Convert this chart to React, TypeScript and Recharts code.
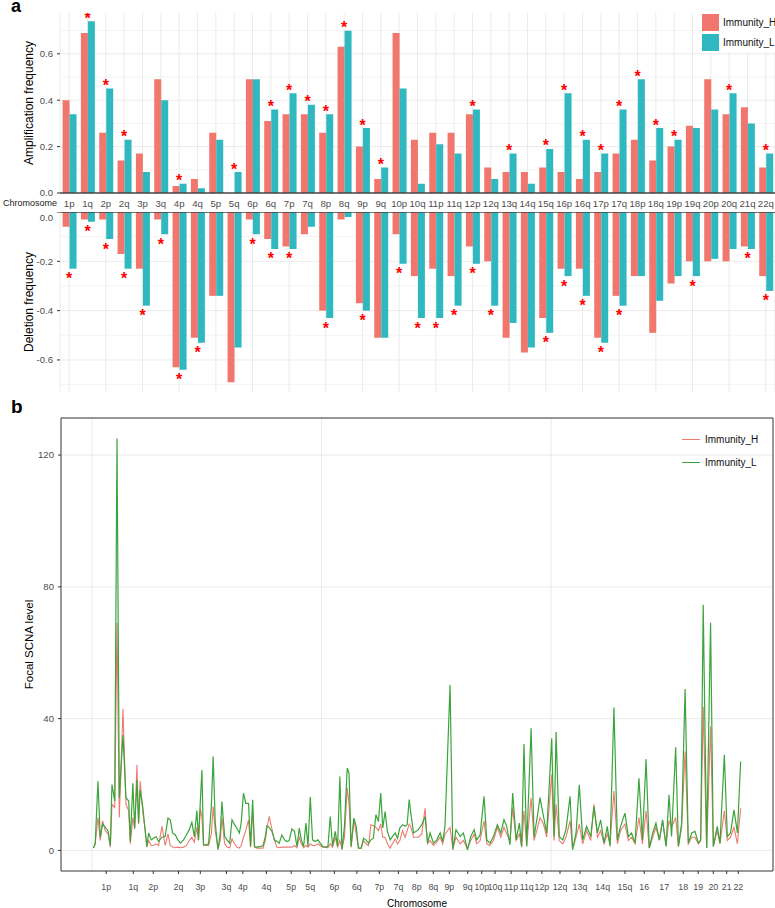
import React from "react";
import {
  Bar,
  CartesianGrid,
  ComposedChart,
  Line,
  LineChart,
  ReferenceArea,
  ReferenceLine,
  Scatter,
  XAxis,
  YAxis,
} from "recharts";

const FONT = "'Liberation Sans', Arial, Helvetica, sans-serif";
const RED = "#F1766E";
const TEAL = "#2FB8C0";
const LINE_RED = "#EE7A70";
const GREEN = "#3AA53A";
const GRID = "#EBEBEB";
const GRID_MINOR = "#F4F4F4";

// panel a: arm level frequencies
const chromArms = [
  "1p", "1q", "2p", "2q", "3p", "3q", "4p", "4q", "5p", "5q",
  "6p", "6q", "7p", "7q", "8p", "8q", "9p", "9q", "10p", "10q",
  "11p", "11q", "12p", "12q", "13q", "14q", "15q", "16p", "16q", "17p",
  "17q", "18p", "18q", "19p", "19q", "20p", "20q", "21q", "22q",
];
const ampH = [
  0.4, 0.69, 0.26, 0.14, 0.17, 0.49, 0.03, 0.06, 0.26, 0, 0.49, 0.31, 0.34,
  0.34, 0.26, 0.63, 0.2, 0.06, 0.69, 0.23, 0.26, 0.26, 0.34, 0.11, 0.09, 0.09,
  0.11, 0.09, 0.06, 0.09, 0.17, 0.23, 0.14, 0.2, 0.29, 0.49, 0.34, 0.37, 0.11,
];
const ampL = [
  0.34, 0.74, 0.45, 0.23, 0.09, 0.4, 0.04, 0.02, 0.23, 0.09, 0.49, 0.36, 0.43,
  0.38, 0.34, 0.7, 0.28, 0.11, 0.45, 0.04, 0.21, 0.17, 0.36, 0.06, 0.17, 0.04,
  0.19, 0.43, 0.23, 0.17, 0.36, 0.49, 0.28, 0.23, 0.28, 0.36, 0.43, 0.3, 0.17,
];
const delH = [
  -0.06, -0.03, -0.03, -0.17, -0.23, -0.03, -0.63, -0.51, -0.34, -0.69, -0.03,
  -0.11, -0.14, -0.09, -0.4, -0.03, -0.37, -0.51, -0.09, -0.26, -0.23, -0.26,
  -0.14, -0.2, -0.51, -0.57, -0.43, -0.23, -0.23, -0.51, -0.34, -0.26, -0.49,
  -0.29, -0.2, -0.2, -0.2, -0.14, -0.26,
];
const delL = [
  -0.23, -0.04, -0.11, -0.23, -0.38, -0.09, -0.64, -0.53, -0.34, -0.55, -0.09,
  -0.15, -0.15, -0.06, -0.43, -0.02, -0.4, -0.51, -0.21, -0.43, -0.43, -0.38,
  -0.21, -0.38, -0.45, -0.55, -0.49, -0.26, -0.34, -0.53, -0.38, -0.26, -0.36,
  -0.26, -0.26, -0.19, -0.15, -0.15, -0.32,
];
const ampSig = [
  "1q", "2p", "2q", "4p", "5q", "6q", "7p", "7q", "8p", "8q", "9p", "9q",
  "12p", "13q", "15q", "16p", "16q", "17p", "17q", "18p", "18q", "19p", "20q", "22q",
];
const delSig = [
  "1p", "1q", "2p", "2q", "3p", "3q", "4p", "4q", "6p", "6q", "7p", "8p", "9p",
  "10p", "10q", "11p", "11q", "12p", "12q", "15q", "16p", "16q", "17p", "17q",
  "19q", "21q", "22q",
];

// panel b: focal SCNA level along the genome (Mb)
const focalPos = [
  6, 14, 26, 36, 46, 58, 70, 80, 87, 99,
  109, 119, 135, 148, 160, 167, 178, 186, 196, 203,
  210, 221, 232, 239, 247, 258, 268, 279, 290, 305,
  319, 331, 341, 351, 363, 374, 385, 399, 411, 424,
  435, 446, 457, 464, 472, 479, 486, 496, 508, 520,
  528, 537, 549, 559, 566, 578, 588, 600, 610, 621,
  631, 642, 650, 660, 670, 682, 691, 700, 708, 718,
  733, 745, 755, 762, 772, 784, 795, 806, 816, 827,
  839, 849, 859, 871, 882, 893, 903, 912, 922, 932,
  941, 951, 961, 972, 984, 994, 1005, 1016, 1028, 1038,
  1048, 1060, 1070, 1080, 1089, 1100, 1112, 1120, 1129, 1141,
  1151, 1161, 1173, 1183, 1193, 1205, 1215, 1226, 1237, 1248,
  1258, 1267, 1277, 1287, 1299, 1309, 1321, 1331, 1341, 1353,
  1364, 1373, 1382, 1390, 1401,
  1422, 1437, 1451, 1462, 1473, 1488, 1502, 1517, 1528, 1538,
  1560, 1572, 1586, 1604, 1618, 1636, 1650, 1665, 1676, 1691,
  1708, 1720, 1734, 1749, 1766, 1781, 1795, 1807, 1821, 1833,
  1848, 1862, 1872, 1882, 1894, 1913, 1926, 1938, 1952, 1967,
  1981, 2003, 2013, 2022, 2036, 2051, 2065, 2083, 2094, 2109,
  2123, 2138, 2155, 2173, 2187, 2202, 2216, 2231, 2245, 2257,
  2274, 2289, 2303, 2322, 2337, 2351, 2366, 2383, 2398, 2414,
  2428, 2443, 2457, 2472, 2486, 2501, 2514, 2525, 2543, 2555,
  2569, 2584, 2598, 2613, 2627, 2642, 2652, 2663, 2678, 2695,
  2707, 2724, 2736, 2755, 2768, 2782, 2797, 2812, 2826,
];
const focalH = [
  0.7, 2, 10, 3, 9, 6, 5, 1, 14, 13,
  69, 10, 43, 14, 12, 2, 10, 6.5, 26, 8,
  21, 12, 6, 1, 3, 1.5, 1.5, 2, 1.5, 7.3,
  1.5, 5, 1.5, 1, 0.8, 1, 0.8, 1, 1.5, 3,
  4, 2.5, 7, 3, 12.8, 10, 1.5, 1.5, 1.5, 5,
  13.3, 6, 0.5, 3, 10, 2, 1, 0.8, 3.5, 2,
  1, 0.7, 1.5, 4, 6, 9.3, 1, 12, 1, 0.7,
  0.7, 0.7, 3, 6.5, 10.3, 6.5, 3, 1, 0.8, 1,
  1, 1, 1, 1, 1.5, 0.8, 4, 2, 0.8, 1.5,
  1, 2, 1.5, 1.5, 2, 1.5, 1, 1, 0.8, 2,
  1, 4, 1, 3, 0.5, 4, 19, 14, 1, 9.5,
  5, 0.7, 0.7, 3, 2, 1.5, 7.8, 7.5, 7, 6,
  8, 4, 4, 2, 0.7, 2, 3.5, 2, 3, 6,
  4, 6, 8, 7, 4,
  4, 5, 12.8, 2, 3, 1.5, 2.5, 4, 2, 5,
  7, 0.5, 4, 2, 3, 0.5, 3, 5, 2, 3,
  9, 2, 1.5, 3, 7, 4, 7, 5, 3, 13,
  3, 5, 1, 12, 1.5, 16, 3, 6, 10, 8,
  4, 23, 3, 14, 3, 2, 4, 9, 0.5, 4,
  8, 2, 6, 3, 14, 4, 6, 2, 5, 2,
  18, 2, 6, 8, 3, 4, 2, 10, 2, 12,
  0.7, 4, 7, 3, 9, 1.5, 9, 7, 10, 1.2,
  7, 30, 2, 4, 4, 2, 3, 43.6, 0.7, 37.6,
  1.2, 6, 2, 12, 3, 4, 7, 2, 12.8,
];
const focalL = [
  0.7, 2, 21, 4, 8, 7, 6, 1.5, 20, 15,
  125, 16, 35, 16, 15, 2.7, 20.4, 6.8, 21.4, 8.3,
  18.4, 13.3, 5.8, 1.2, 5.3, 3.2, 3.7, 4.2, 2.7, 4,
  4.2, 9.8, 9.3, 5.3, 4.7, 3.2, 2.2, 3.2, 4.7, 6.3,
  8.5, 4.2, 12.1, 3.2, 14.8, 24.4, 1.7, 1.7, 2, 13.3,
  28.5, 8.3, 0.2, 5.3, 14.8, 4.2, 3.2, 2.2, 9.3, 7.8,
  6.8, 5.3, 8.3, 17.4, 14.3, 14.3, 1.2, 15.4, 1.2, 1,
  1.2, 1.4, 4.2, 7.5, 7, 5.8, 3.2, 2.7, 2.2, 4.7,
  3.2, 2.7, 3, 6.5, 5.8, 1.2, 6.8, 3.2, 1.2, 8.3,
  1.2, 16.2, 3.2, 2.7, 3.2, 2.2, 1.2, 1, 1.2, 10.3,
  1.4, 5.8, 1.2, 22.4, 0.2, 7.3, 25, 23.4, 1.2, 9.8,
  7.3, 0.7, 0.7, 3.7, 3.2, 2.2, 3.2, 3.7, 10.8, 8.8,
  17.4, 6.8, 11.8, 5.8, 3.2, 4.2, 5.3, 3.7, 6.8, 7.8,
  7.3, 7.8, 15.4, 10.8, 5.3,
  6.3, 7.8, 10.3, 2.2, 5.3, 2.2, 3.2, 5.3, 2.7, 7.3,
  50.2, 0.2, 6.3, 4.2, 5.3, 0.2, 4.2, 6.3, 3.2, 4.7,
  16.4, 3.2, 2.2, 4.2, 7.8, 5.3, 9.3, 7.3, 1.7, 17.4,
  3.2, 8.3, 1.2, 32.3, 1.2, 37.1, 4.2, 9.3, 16, 10.3,
  5.3, 34, 4.2, 35.9, 4.2, 3.2, 6.3, 16.4, 0.2, 5.3,
  19.9, 3.2, 7.3, 4.2, 13.3, 5.3, 9.3, 2.2, 7.3, 1.2,
  43.4, 3.2, 7.3, 11.3, 4.2, 5.3, 2.2, 21.9, 3.2, 27.7,
  0.7, 5.3, 8.3, 3.2, 9.3, 1.2, 16.9, 4.2, 31.3, 1.2,
  8.3, 49, 2.2, 5.3, 5.8, 2.2, 3.2, 74.6, 0.7, 69.1,
  1.2, 7.3, 2.2, 29, 4.2, 5.3, 12.3, 5.3, 27,
];
const armTickLabels = [
  "1p", "1q", "2p", "2q", "3p", "3q", "4p", "4q", "5p", "5q", "6p", "6q",
  "7p", "7q", "8p", "8q", "9p", "9q", "10p", "10q", "11p", "11q", "12p", "12q",
  "13q", "14q", "15q", "16", "17", "18", "19", "20", "21", "22",
];
const armTickPos = [
  62, 180, 267, 377, 472, 586, 657, 760, 868, 951, 1056, 1154,
  1252, 1335, 1415, 1487, 1557, 1637, 1698, 1756, 1826, 1894, 1960, 2039,
  2126, 2225, 2322, 2406, 2493, 2576, 2641, 2707, 2765, 2816,
];

const armData = chromArms.map((chr, i) => ({
  chr,
  ampH: ampH[i],
  ampL: ampL[i],
  delH: delH[i],
  delL: delL[i],
  ampStar: ampSig.includes(chr) ? Math.max(ampH[i], ampL[i]) : null,
  delStar: delSig.includes(chr) ? Math.min(delH[i], delL[i]) : null,
}));

const focalData = focalPos.map((pos, i) => ({ pos, H: focalH[i], L: focalL[i] }));
const tickLabelOf: Record<number, string> = {};
armTickPos.forEach((p, i) => (tickLabelOf[p] = armTickLabels[i]));

const tickStyle = { fontSize: 9.6, fill: "#4D4D4D", fontFamily: FONT };
const titleStyle = { fontSize: 12, fill: "#000", fontFamily: FONT };

const starText = (x: number, y: number) => (
  <text x={x} y={y} textAnchor="middle" fontSize={16} fontWeight={700} fill="#FF0000" fontFamily={FONT}>
    *
  </text>
);

const ampStarShape = (p: any) => {
  if (p.payload?.ampStar == null || !Number.isFinite(p.cy)) return <g />;
  return starText(p.cx, p.cy - 6.3 + 8.8);
};
const delStarShape = (p: any) => {
  if (p.payload?.delStar == null || !Number.isFinite(p.cy)) return <g />;
  return starText(p.cx, p.cy + 6.7 + 8.8);
};

export default function App() {
  return (
    <div
      style={{
        position: "absolute",
        left: 0,
        top: 0,
        width: 775,
        height: 908,
        background: "#fff",
        fontFamily: FONT,
        overflow: "hidden",
      }}
    >
      <svg width={775} height={908} style={{ position: "absolute", left: 0, top: 0 }}>
        <text x={11} y={12} fontSize={18} fontWeight={700} fontFamily={FONT}>a</text>
        <text x={11} y={413} fontSize={19} fontWeight={700} fontFamily={FONT}>b</text>
      </svg>

      {/* amplification */}
      <div style={{ position: "absolute", left: 0, top: 0 }}>
        <ComposedChart
          width={775}
          height={212}
          data={armData}
          margin={{ top: 13, right: 0, left: 0, bottom: 0 }}
          barCategoryGap="14%"
          barGap={0}
        >
          <CartesianGrid stroke={GRID_MINOR} vertical={false} horizontalValues={[0.1, 0.3, 0.5, 0.7]} />
          <CartesianGrid stroke={GRID} horizontalValues={[0.2, 0.4, 0.6]} />
          <XAxis
            dataKey="chr"
            type="category"
            height={19}
            interval={0}
            axisLine={false}
            tickLine={false}
            tickSize={5}
            tickMargin={2}
            tick={tickStyle}
            label={{ value: "Chromosome", position: "left", offset: 3, style: { fontSize: 9, fill: "#1a1a1a", fontFamily: FONT } }}
          />
          <YAxis
            type="number"
            width={60}
            domain={[0, 0.776]}
            allowDataOverflow
            ticks={[0, 0.2, 0.4, 0.6]}
            tickFormatter={(v: number) => v.toFixed(1)}
            axisLine={false}
            tickSize={3}
            tickMargin={4}
            tickLine={{ stroke: "#333" }}
            tick={tickStyle}
            label={{ value: "Amplification frequency", angle: -90, position: "center", dx: -1, style: titleStyle }}
          />
          <Bar dataKey="ampH" fill={RED} isAnimationActive={false} />
          <Bar dataKey="ampL" fill={TEAL} isAnimationActive={false} />
          <Scatter dataKey="ampStar" shape={ampStarShape} isAnimationActive={false} />
          <ReferenceLine y={0} stroke="#444" strokeWidth={1.4} />
        </ComposedChart>
      </div>

      {/* deletion */}
      <div style={{ position: "absolute", left: 0, top: 212 }}>
        <ComposedChart
          width={775}
          height={180}
          data={armData}
          margin={{ top: 0, right: 0, left: 0, bottom: 0 }}
          barCategoryGap="14%"
          barGap={0}
        >
          <CartesianGrid stroke={GRID_MINOR} vertical={false} horizontalValues={[-0.1, -0.3, -0.5, -0.7]} />
          <CartesianGrid stroke={GRID} horizontalValues={[-0.2, -0.4, -0.6]} />
          <XAxis dataKey="chr" type="category" hide />
          <YAxis
            type="number"
            width={60}
            domain={[-0.73, 0]}
            allowDataOverflow
            ticks={[-0.6, -0.4, -0.2, 0]}
            tickFormatter={(v: number) => v.toFixed(1)}
            axisLine={false}
            tickSize={3}
            tickMargin={4}
            tickLine={{ stroke: "#333" }}
            tick={tickStyle}
            label={{ value: "Deletion frequency", angle: -90, position: "center", dx: -1, style: titleStyle }}
          />
          <Bar dataKey="delH" fill={RED} isAnimationActive={false} />
          <Bar dataKey="delL" fill={TEAL} isAnimationActive={false} />
          <Scatter dataKey="delStar" shape={delStarShape} isAnimationActive={false} />
          <ReferenceLine y={0} stroke="#444" strokeWidth={1.4} />
        </ComposedChart>
      </div>

      {/* legend a */}
      <div style={{ position: "absolute", left: 702, top: 12, background: "#fff", paddingRight: 4 }}>
        {[["Immunity_H", RED], ["Immunity_L", TEAL]].map(([name, c]) => (
          <div key={name} style={{ display: "flex", alignItems: "center", height: 20 }}>
            <div style={{ width: 17, height: 17, background: c, marginRight: 4 }} />
            <span style={{ fontSize: 10, color: "#111" }}>{name}</span>
          </div>
        ))}
      </div>

      {/* panel b */}
      <div style={{ position: "absolute", left: 0, top: 400 }}>
        <LineChart width={775} height={508} data={focalData} margin={{ top: 18, right: 2, left: 0, bottom: 0 }}>
          <CartesianGrid stroke={GRID} verticalValues={[0, 1000, 2000]} horizontalValues={[0, 40, 80, 120]} />
          <XAxis
            dataKey="pos"
            type="number"
            domain={[-135, 2967]}
            allowDataOverflow
            ticks={armTickPos}
            interval={0}
            tickFormatter={(v: number) => tickLabelOf[v] ?? ""}
            height={37}
            axisLine={false}
            tickSize={3}
            tickMargin={10}
            tickLine={{ stroke: "#333" }}
            tick={{ ...tickStyle, fontSize: 8.8 }}
            label={{ value: "Chromosome", position: "insideBottom", offset: 1, style: { fontSize: 10, fill: "#000", fontFamily: FONT } }}
          />
          <YAxis
            type="number"
            width={61}
            domain={[-6.25, 131.25]}
            allowDataOverflow
            ticks={[0, 40, 80, 120]}
            axisLine={false}
            tickSize={3}
            tickMargin={4}
            tickLine={{ stroke: "#333" }}
            tick={tickStyle}
            label={{ value: "Focal SCNA level", angle: -90, position: "center", dx: -2, style: { ...titleStyle, fontSize: 11.5 } }}
          />
          <ReferenceArea x1={-135} x2={2967} y1={-6.25} y2={131.25} fill="none" stroke="#333" strokeWidth={1} />
          <Line dataKey="H" type="linear" stroke={LINE_RED} strokeWidth={1.1} dot={false} isAnimationActive={false} />
          <Line dataKey="L" type="linear" stroke={GREEN} strokeWidth={1.2} dot={false} isAnimationActive={false} />
        </LineChart>
      </div>

      {/* legend b */}
      <div style={{ position: "absolute", left: 682, top: 428 }}>
        {[["Immunity_H", LINE_RED], ["Immunity_L", GREEN]].map(([name, c]) => (
          <div key={name} style={{ display: "flex", alignItems: "center", height: 23 }}>
            <div style={{ width: 18, height: 1.3, background: c, marginRight: 5 }} />
            <span style={{ fontSize: 10, color: "#111" }}>{name}</span>
          </div>
        ))}
      </div>
    </div>
  );
}
